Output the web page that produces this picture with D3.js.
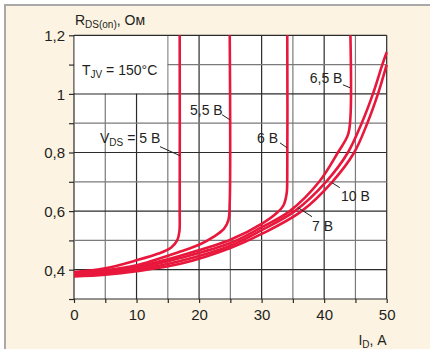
<!DOCTYPE html>
<html>
<head>
<meta charset="utf-8">
<script src="https://cdn.jsdelivr.net/npm/d3@7"></script>
<style>
  body { margin: 0; background: #fff; }
  text { font-family: "Liberation Sans", Arial, sans-serif; fill: #231f20; }
</style>
</head>
<body>
<script>
// RDS(on) vs ID at Tj = 150°C, one curve per gate voltage (I in A, R in Ohm)
const xTicks = [0, 5, 10, 15, 20, 25, 30, 35, 40, 45, 50];
const yTicks = [0.3, 0.4, 0.5, 0.6, 0.7, 0.8, 0.9, 1.0, 1.1, 1.2];
const xLabels = [0, 10, 20, 30, 40, 50];
const yLabels = [0.4, 0.6, 0.8, 1.0, 1.2];

const v5   = [[0,0.392],[5,0.405],[10,0.432],[13.5,0.455],[15.5,0.475],[16.5,0.5],[16.85,0.53],[16.9,0.6],[16.9,1.2]];
const v5_5 = [[0,0.39],[5,0.398],[10,0.415],[17,0.462],[20,0.485],[22.3,0.512],[24,0.54],[24.7,0.57],[24.9,0.63],[24.9,1.2]];
const v6   = [[0,0.388],[5,0.395],[10,0.41],[17,0.448],[25,0.502],[30.2,0.559],[32.5,0.595],[33.5,0.62],[34,0.66],[34.1,0.72],[34.1,1.2]];
const v6_5 = [[0,0.385],[5,0.392],[10,0.405],[17,0.44],[25,0.491],[30,0.545],[34.5,0.6],[39.2,0.7],[42.2,0.8],[43.8,0.86],[44.2,0.92],[44.2,1.2]];
const v7   = [[0,0.38],[5,0.387],[10,0.4],[17,0.43],[25,0.482],[30,0.535],[35.3,0.6],[40.3,0.7],[43.8,0.8],[46,0.9],[47.8,1.0],[49.3,1.1],[50,1.142]];
const v10  = [[0,0.377],[5,0.383],[10,0.395],[17,0.42],[25,0.474],[30,0.522],[36.4,0.6],[41.3,0.7],[44.8,0.8],[46.9,0.9],[48.6,1.0],[50,1.1]];
const curves = [v5, v5_5, v6, v6_5, v7, v10];

// curve labels: text, anchor (I, R), leader from/to
const notes = [
  {text: ["V", "DS", " = 5 В"], at: [4.16, 0.833], line: [[13.75, 0.82], [16.95, 0.789]]},
  {text: ["5,5 В"], at: [18.55, 0.929], line: [[23.67, 0.929], [24.9, 0.912]]},
  {text: ["6 В"], at: [29.26, 0.833], line: [[32.94, 0.833], [34.06, 0.816]]},
  {text: ["6,5 В"], at: [37.7, 1.038], line: [[43.0, 1.031], [44.15, 1.021]]},
  {text: ["10 В"], at: [42.7, 0.635], line: [[41.25, 0.697], [42.5, 0.68]]},
  {text: ["7 В"], at: [38.05, 0.533], line: [[35.8, 0.612], [38.05, 0.581]]}
];

const width = 430, height = 349;
const svg = d3.select("body").append("svg")
  .attr("width", width).attr("height", height);

const x = d3.scaleLinear().domain([0, 50]).range([74, 386.7]);
const y = d3.scaleLinear().domain([0.3, 1.2]).range([299, 35.3]);

// cream panel with grey frame
svg.append("rect").attr("x", 5).attr("y", 5).attr("width", width - 5).attr("height", height - 5).attr("fill", "#fcf3e2");
svg.append("line").attr("x1", 5).attr("x2", width).attr("y1", 5).attr("y2", 5).attr("stroke", "#a9a9a9").attr("stroke-width", 2);
svg.append("line").attr("x1", 5).attr("x2", 5).attr("y1", 4).attr("y2", height).attr("stroke", "#a9a9a9").attr("stroke-width", 2);

svg.append("rect")
  .attr("x", x(0)).attr("y", y(1.2))
  .attr("width", x(50) - x(0)).attr("height", y(0.3) - y(1.2))
  .attr("fill", "#fff");

const isMajorX = d => d % 10 === 0;
const isMajorY = d => Math.round(d * 10) % 2 === 0 || Math.abs(d - 0.3) < 1e-6;

svg.append("g").selectAll("line")
  .data(xTicks)
  .join("line")
  .attr("x1", d => x(d)).attr("x2", d => x(d))
  .attr("y1", y(0.3)).attr("y2", y(1.2))
  .attr("stroke", d => isMajorX(d) ? "#2b2b2b" : "#7a7a7a")
  .attr("stroke-width", 1.2);

svg.append("g").selectAll("line")
  .data(yTicks)
  .join("line")
  .attr("x1", x(0)).attr("x2", x(50))
  .attr("y1", d => y(d)).attr("y2", d => y(d))
  .attr("stroke", d => isMajorY(d) ? "#2b2b2b" : "#7a7a7a")
  .attr("stroke-width", 1.2);

// white box behind the temperature note
svg.append("rect")
  .attr("x", x(0) + 0.7).attr("y", y(1.2) + 0.7)
  .attr("width", x(15) - x(0) - 1.3).attr("height", y(1.0) - y(1.2) - 1.3)
  .attr("fill", "#fff");

// axes (ticks + labels only)
const xAxis = svg.append("g")
  .attr("transform", `translate(0,${y(0.3)})`)
  .call(d3.axisBottom(x).tickValues(xTicks).tickSize(4).tickPadding(6)
    .tickFormat(d => xLabels.includes(d) ? d : ""));
const yAxis = svg.append("g")
  .attr("transform", `translate(${x(0)},0)`)
  .call(d3.axisLeft(y).tickValues(yTicks).tickSize(5).tickPadding(4)
    .tickFormat(d => yLabels.some(v => Math.abs(v - d) < 1e-6) ? String(+d.toFixed(1)).replace(".", ",") : ""));
[xAxis, yAxis].forEach(g => {
  g.select(".domain").remove();
  g.selectAll(".tick line").attr("stroke", "#2b2b2b").attr("stroke-width", 1.2);
  g.selectAll(".tick text").attr("font-size", 15).attr("fill", "#231f20")
    .style("font-family", '"Liberation Sans", Arial, sans-serif');
});
yAxis.selectAll(".tick text").attr("dy", "0.36em");

// curves
const line = d3.line()
  .x(d => x(d[0])).y(d => y(d[1]))
  .curve(d3.curveCatmullRom.alpha(0.5));

svg.append("g").selectAll("path")
  .data(curves)
  .join("path")
  .attr("d", line)
  .attr("fill", "none")
  .attr("stroke", "#e8173c")
  .attr("stroke-width", 2.6)
  .attr("stroke-linejoin", "round");

// leaders + labels
svg.append("g").selectAll("line")
  .data(notes)
  .join("line")
  .attr("x1", d => x(d.line[0][0])).attr("y1", d => y(d.line[0][1]))
  .attr("x2", d => x(d.line[1][0])).attr("y2", d => y(d.line[1][1]))
  .attr("stroke", "#231f20").attr("stroke-width", 1);

function addText(parts, px, py, anchor) {
  const t = svg.append("text").attr("x", px).attr("y", py)
    .attr("font-size", 14).attr("text-anchor", anchor || "start");
  parts.forEach((p, i) => {
    const sub = parts.length > 1 && i === 1;
    t.append("tspan")
      .attr("font-size", sub ? 10 : 14)
      .attr("dy", sub ? 3 : (i > 1 ? -3 : 0))
      .text(p);
  });
  return t;
}

notes.forEach(n => addText(n.text, x(n.at[0]), y(n.at[1])));

addText(["T", "JV", " = 150°C"], x(1.28), y(1.063));
addText(["R", "DS(on)", ", Ом"], x(0.15), 25);
addText(["I", "D", ", А"], x(50), 345, "end");
</script>
</body>
</html>
